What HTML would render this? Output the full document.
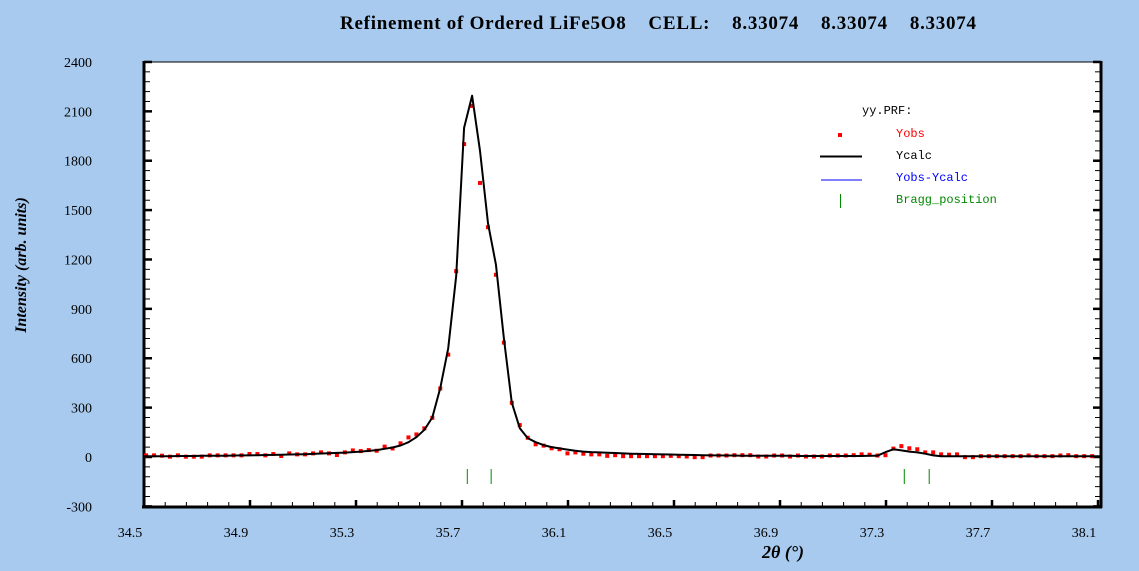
<!DOCTYPE html>
<html><head><meta charset="utf-8"><style>
html,body{margin:0;padding:0;background:#a8caef;}
svg{display:block;}
</style></head><body>
<svg id="chart" width="1139" height="571" xmlns="http://www.w3.org/2000/svg" font-family="Liberation Serif, serif">
<rect x="0" y="0" width="1139" height="571" fill="#a8caef"/>
<text x="340" y="29" font-size="19" font-weight="bold" textLength="636" lengthAdjust="spacing" xml:space="preserve">Refinement of Ordered LiFe5O8    CELL:    8.33074    8.33074    8.33074</text>
<rect x="144" y="62" width="957" height="445" fill="#fff"/>
<g id="grid"></g>
<g id="marks"></g>
<text transform="translate(26,265) rotate(-90)" font-size="16" font-weight="bold" font-style="italic" text-anchor="middle">Intensity (arb. units)</text>
<text x="783" y="558" font-size="18" font-weight="bold" font-style="italic" text-anchor="middle">2θ (°)</text>
<g font-family="Liberation Mono, monospace" font-size="12">
<text x="862" y="114">yy.PRF:</text>
<rect x="838" y="133" width="4" height="4" fill="#f00"/>
<text x="896" y="137" fill="#f00">Yobs</text>
<line x1="820" y1="156.5" x2="862" y2="156.5" stroke="#000" stroke-width="2"/>
<text x="896" y="159" fill="#000">Ycalc</text>
<line x1="821" y1="180" x2="862" y2="180" stroke="#00f" stroke-width="1"/>
<text x="896" y="181" fill="#00f">Yobs-Ycalc</text>
<line x1="840.5" y1="194" x2="840.5" y2="208" stroke="#080" stroke-width="1"/>
<text x="896" y="203" fill="#080">Bragg_position</text>
</g>
</svg>
<script>
const x0 = 34.508, xStep = 0.03;
const yobs = [10,10,8,2,10,2,2,2,10,10,10,10,10,18,18,10,18,6,22,16,16,22,28,22,12,28,40,36,42,38,
63,52,83,119,137,174,238,416,622,1129,1901,2133,1665,1396,1107,695,329,194,117,77,69,53,47,22,28,
20,16,
16,7,11,5,5,5,5,5,5,7,5,3,-1,-1,9,9,9,11,11,11,3,3,9,9,3,9,3,3,3,9,9,9,11,16,14,9,11,51,66,53,47,28,28,16,14,16,-1,-1,5,5,5,5,5,5,9,5,5,5,9,11,5,5,5];
const ycalc = [4,5,5,5,6,6,6,7,7,8,8,9,10,10,11,12,13,14,15,16,17,19,21,23,25,27,30,33,37,42,
50,58,70,90,120,165,240,420,660,1100,2000,2195,1860,1420,1170,720,330,175,115,90,72,60,52,45,38,
33,30,28,26,24,22,20,19,18,17,16,15,14,13,12,11,10,10,9,9,8,8,8,7,7,7,7,6,6,6,6,6,6,6,6,6,7,8,30,47,40,33,28,20,10,5,4,4,4,4,4,4,4,4,4,4,4,4,4,4,4,4,4,4];
const bragg = [35.72, 35.81, 37.369, 37.463];
const xTicks = [34.5, 34.9, 35.3, 35.7, 36.1, 36.5, 36.9, 37.3, 37.7, 38.1];
const yTicks = [-300, 0, 300, 600, 900, 1200, 1500, 1800, 2100, 2400];
const NS = 'http://www.w3.org/2000/svg';
const X = v => 144 + (v - 34.5) * 265;
const Y = v => 457 - v * 0.1646;
function mk(tag, attrs, parent){const e=document.createElementNS(NS,tag);for(const k in attrs)e.setAttribute(k,attrs[k]);parent.appendChild(e);return e;}
const g = document.getElementById('grid'), m = document.getElementById('marks');
const fr = mk('rect',{x:144,y:62,width:957,height:445,fill:'none',stroke:'#000','stroke-width':1},g);


const la = mk('line',{x1:144,y1:61,x2:144,y2:508,stroke:'#000','stroke-width':3},g);


const ba = mk('line',{x1:142,y1:507,x2:1102,y2:507,stroke:'#000','stroke-width':3},g);


const ra = mk('line',{x1:1101,y1:61,x2:1101,y2:508,stroke:'#000','stroke-width':3},g);


for (let v=-300; v<=2400; v+=60){
  const major = yTicks.includes(v);
  const len = major?8:6;
  const y = Y(v);
  const t1 = mk('line',{x1:144,y1:y,x2:144+len,y2:y,stroke:'#000','stroke-width':major?2.5:1},g);
  
  
  const t2 = mk('line',{x1:1101,y1:y,x2:1101-len,y2:y,stroke:'#000','stroke-width':major?2.5:1},g);
  
  
}
yTicks.forEach(v=>{
  const t = mk('text',{x:92,y:Y(v)+5,'font-size':14,'text-anchor':'end'},g);
  t.textContent = v;
  
  
});
for (let i=0;i<=45;i++){
  const v = 34.5 + i*0.08;
  const major = i%5===0;
  const x = X(v);
  if (x>1101) break;
  const t = mk('line',{x1:x,y1:507,x2:x,y2:major?500:502,stroke:'#000','stroke-width':major?2.5:1},g);
  
  
}
xTicks.forEach(v=>{
  const t = mk('text',{x:X(v)-14,y:537,'font-size':14,'text-anchor':'middle'},g);
  t.textContent = v.toFixed(1);
  
  
});
yobs.forEach((v,i)=>{
  const x = X(x0 + i*xStep), y = Y(v);
  const r = mk('rect',{x:x-2,y:y-2,width:4,height:4,fill:'#f00'},m);
  
  
});
const pts = ycalc.map((v,i)=>X(x0+i*xStep).toFixed(1)+','+Y(v).toFixed(1));
pts.unshift(X(34.5).toFixed(1)+','+Y(ycalc[0]).toFixed(1));
pts.push(X(38.107).toFixed(1)+','+Y(ycalc[ycalc.length-1]).toFixed(1));
const pl = mk('polyline',{points:pts.join(' '),fill:'none',stroke:'#000','stroke-width':2,'stroke-linejoin':'round'},m);


bragg.forEach(v=>{
  const l = mk('line',{x1:X(v),y1:469,x2:X(v),y2:484,stroke:'#080','stroke-width':1},m);
  
  
});
</script>
</body></html>
